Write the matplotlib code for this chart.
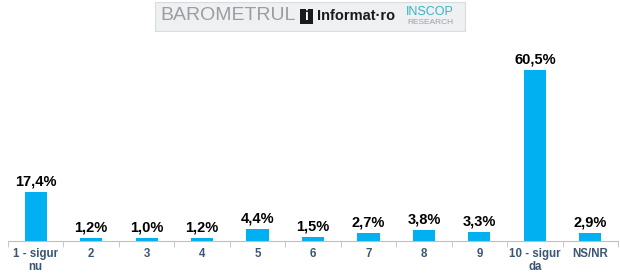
import matplotlib
matplotlib.use("Agg")
import matplotlib.pyplot as plt
from matplotlib.patches import Rectangle

categories = ["1 - sigur\nnu", "2", "3", "4", "5", "6", "7", "8", "9", "10 - sigur\nda", "NS/NR"]
values = [17.4, 1.2, 1.0, 1.2, 4.4, 1.5, 2.7, 3.8, 3.3, 60.5, 2.9]
value_labels = ["17,4%", "1,2%", "1,0%", "1,2%", "4,4%", "1,5%", "2,7%", "3,8%", "3,3%", "60,5%", "2,9%"]

plt.rcParams['font.family'] = ['Liberation Sans', 'DejaVu Sans']

fig = plt.figure(figsize=(6.2, 2.8), dpi=100)
ax = fig.add_axes([8/620, 39/280, 610/620, 201/280])
x = list(range(len(categories)))
ax.bar(x, values, width=0.4, color="#00B0F0")
ax.set_xlim(-0.5, len(categories) - 0.5)
ax.set_ylim(0, 60.5 * 201 / 171)
for xi, v, lab in zip(x, values, value_labels):
    ax.annotate(lab, (xi, v), xytext=(0, 2.5), textcoords="offset points",
                ha="center", va="bottom", fontsize=10.5, fontweight="bold", color="black")

for s in ["top", "right", "left"]:
    ax.spines[s].set_visible(False)
ax.spines["bottom"].set_color("#BFBFBF")
ax.set_yticks([])
ax.set_xticks(x)
ax.set_xticklabels(categories, fontsize=8.3, fontweight="bold", color="#3B5675", linespacing=1.15)
ax.tick_params(axis="x", length=0, pad=5)
ax.set_xticks([i + 0.5 for i in range(-1, len(categories))], minor=True)
ax.tick_params(axis="x", which="minor", length=4, color="#BFBFBF")

# header logo
fig.patches.append(Rectangle((155/620, 1 - 31/280), 310/620, 29/280, transform=fig.transFigure,
                             facecolor="#EEF0F2", edgecolor="#D8DCE0", linewidth=0.8))
fig.text(160/620, 1 - 16/280, "BAROMETRUL", fontsize=14, color="#9A9EA3", va="center", ha="left")
fig.patches.append(Rectangle((300/620, 1 - 24/280), 13/620, 15/280, transform=fig.transFigure,
                             facecolor="#1A1A1A", edgecolor="none"))
fig.text(306.5/620, 1 - 16.5/280, "i", fontsize=10, color="white", fontweight="bold", va="center", ha="center")
fig.text(317/620, 1 - 16/280, "Informat·ro", fontsize=10.5, color="#1A1A1A", fontweight="bold", va="center", ha="left")
fig.text(430/620, 1 - 12/280, "INSCOP", fontsize=9, color="#3BB3C3", va="center", ha="center")
fig.text(430/620, 1 - 23/280, "RESEARCH", fontsize=6, color="#9AA3AA", va="center", ha="center")

fig.savefig("out.png", dpi=100)
